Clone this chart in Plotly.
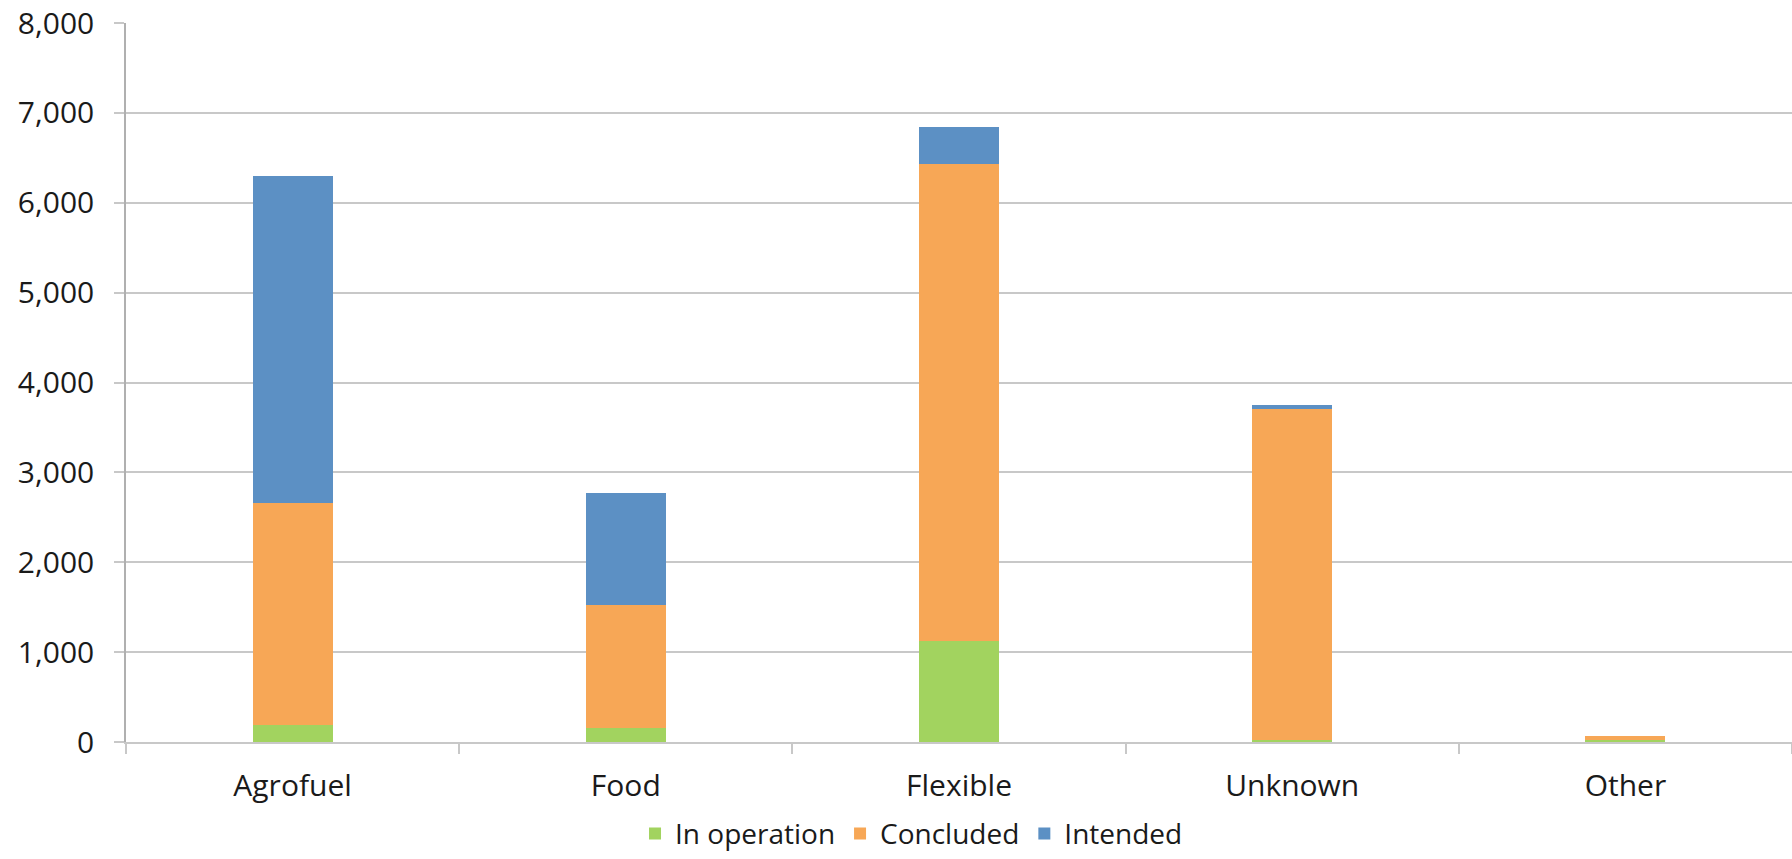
import plotly.graph_objects as go

categories = ["Agrofuel", "Food", "Flexible", "Unknown", "Other"]
in_operation = [193, 156, 1122, 18, 25]
concluded = [2470, 1368, 5308, 3685, 42]
intended = [3637, 1250, 414, 52, 0]
y_ticks = [0, 1000, 2000, 3000, 4000, 5000, 6000, 7000, 8000]

series = [
    ("In operation", in_operation, "#A2D35F"),
    ("Concluded", concluded, "#F7A756"),
    ("Intended", intended, "#5C90C4"),
]

FONT = "Open Sans"
GRID = "#c8c8c8"

fig = go.Figure()
for name, vals, col in series:
    fig.add_trace(go.Bar(x=categories, y=vals, name=name, marker_color=col,
                         marker_line_width=0))

fig.update_layout(
    width=1792, height=859, autosize=False,
    barmode="stack", bargap=0.76,
    plot_bgcolor="white", paper_bgcolor="white",
    margin=dict(l=126, r=0, t=23, b=117, autoexpand=False),
    font=dict(family=FONT, size=30, color="#1a1a1a"),
    legend=dict(orientation="h", x=0.4715, xanchor="center", y=-0.093, yanchor="top",
                font=dict(size=28), traceorder="normal", itemwidth=30,
                bgcolor="rgba(0,0,0,0)", borderwidth=0),
    showlegend=True,
)
fig.update_xaxes(
    showline=True, linecolor=GRID, linewidth=1.5,
    ticks="outside", tickson="boundaries", ticklen=10, tickcolor=GRID, tickwidth=1.5,
    ticklabelstandoff=16, showgrid=False,
)
fig.update_yaxes(
    range=[0, 8000], tickvals=y_ticks, tickformat=",",
    showgrid=True, gridcolor=GRID, gridwidth=1.5,
    showline=True, linecolor="#b0b0b0", linewidth=1.5,
    ticks="outside", ticklen=10, tickcolor=GRID, tickwidth=1.5,
    ticklabelstandoff=14, zeroline=False,
)

fig.write_html("out.html")
